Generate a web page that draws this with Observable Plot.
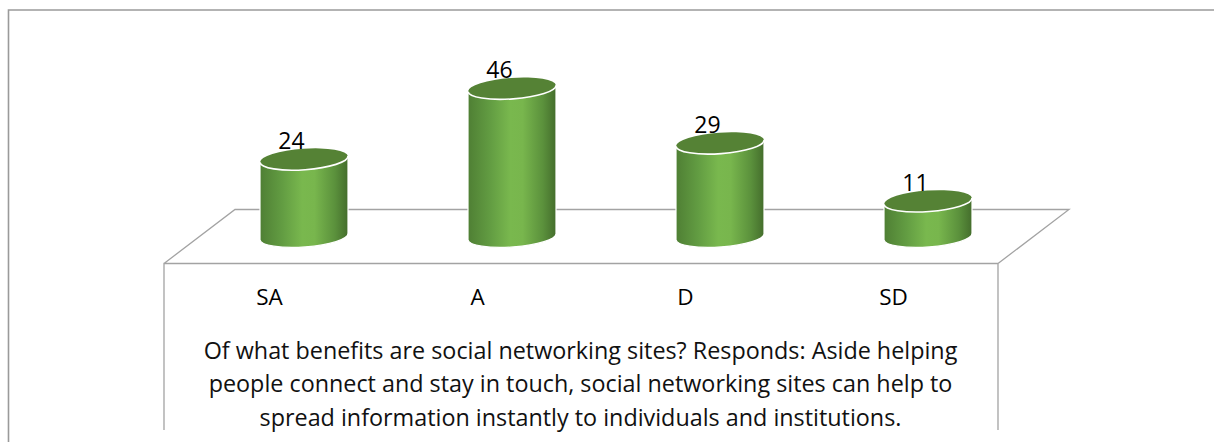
<!DOCTYPE html>
<html>
<head>
<meta charset="utf-8">
<script src="https://cdn.jsdelivr.net/npm/d3@7"></script>
<script src="https://cdn.jsdelivr.net/npm/@observablehq/plot@0.6"></script>
<style>
  html, body { margin: 0; padding: 0; background: #fff; }
  svg { display: block; }
</style>
</head>
<body>
<div id="chart"></div>
<script>
const categories = ["SA", "A", "D", "SD"];
const values = [24, 46, 29, 11];
const captionLines = [
  "Of what benefits are social networking sites? Responds: Aside helping",
  "people connect and stay in touch, social networking sites can help to",
  "spread information instantly to individuals and institutions."
];
const rows = categories.map((category, i) => ({category, value: values[i]}));

const font = "'Open Sans', sans-serif";
const rx = 44, ry = 10.5, tilt = -4, cornerDrop = 3.2;

function chrome(index, {x, y}, values, {width, height}) {
  const g = d3.create("svg:g").attr("fill", "none");
  const first = x(categories[0]), last = x(categories[categories.length - 1]), base = y(0);
  const front = base + 27, back = base - 27;
  const fl = first - 140, bl = first - 69, fr = last + 70, br = last + 141;
  g.append("path")
    .attr("d", `M${fl},430V${front}H${fr}V430M${fl},${front}L${bl},${back}H${br}L${fr},${front}`)
    .attr("stroke", "#a3a3a3").attr("stroke-width", 1.3);
  g.append("path")
    .attr("d", `M${width},10H8.5V${height}`)
    .attr("stroke", "#9a9a9a").attr("stroke-width", 1.6);
  return g.node();
}

function cylinders(index, {x, y}) {
  const g = d3.create("svg:g");
  const grad = g.append("defs").append("linearGradient")
    .attr("id", "cyl").attr("x1", 0).attr("x2", 1).attr("y1", 0).attr("y2", 0);
  [[0, "#4f7f34"], [0.25, "#629c42"], [0.48, "#79b84e"], [0.62, "#78b64d"], [0.85, "#5b913c"], [1, "#446d2c"]]
    .forEach(([o, c]) => grad.append("stop").attr("offset", o).attr("stop-color", c));
  rows.forEach(d => {
    const cx = x(d.category), top = y(d.value), base = y(0);
    const arc = `A${rx},${ry} ${tilt} 0 0`;
    g.append("path")
      .attr("d", `M${cx - rx},${top + cornerDrop}V${base + cornerDrop}${arc} ${cx + rx},${base - cornerDrop}V${top - cornerDrop}Z`)
      .attr("fill", "url(#cyl)").attr("stroke", "#fff").attr("stroke-width", 1.2);
    g.append("ellipse")
      .attr("cx", cx).attr("cy", top).attr("rx", rx).attr("ry", ry)
      .attr("transform", `rotate(${tilt} ${cx} ${top})`)
      .attr("fill", "#558235");
    g.append("path")
      .attr("d", `M${cx - rx},${top + cornerDrop}${arc} ${cx + rx},${top - cornerDrop}`)
      .attr("fill", "none").attr("stroke", "#fff").attr("stroke-width", 1.6);
  });
  return g.node();
}

const plot = Plot.plot({
  width: 1214,
  height: 442,
  marginLeft: 0, marginRight: 0, marginTop: 0, marginBottom: 178,
  style: {fontFamily: font, background: "#fff", color: "#000"},
  x: {type: "point", domain: categories, range: [303, 928.5], padding: 0, label: null},
  y: {domain: [0, 46], range: [236.5, 88.4], axis: null},
  marks: [
    chrome,
    Plot.axisX({domain: categories, tickSize: 0, tickPadding: 25, dx: -35, fontSize: 22.5, label: null, fill: "#000"}),
    cylinders,
    Plot.text(rows, {x: "category", y: "value", text: d => String(d.value), dx: -13, dy: -18, fontSize: 23, fill: "#000"}),
    Plot.text([captionLines.join("\n")], {
      frameAnchor: "top-left", dx: 580, dy: 381, text: d => d,
      textAnchor: "middle", lineAnchor: "middle", lineHeight: 1.44, fontSize: 23.35, fill: "#111"
    })
  ]
});
document.getElementById("chart").append(plot);
</script>
</body>
</html>
